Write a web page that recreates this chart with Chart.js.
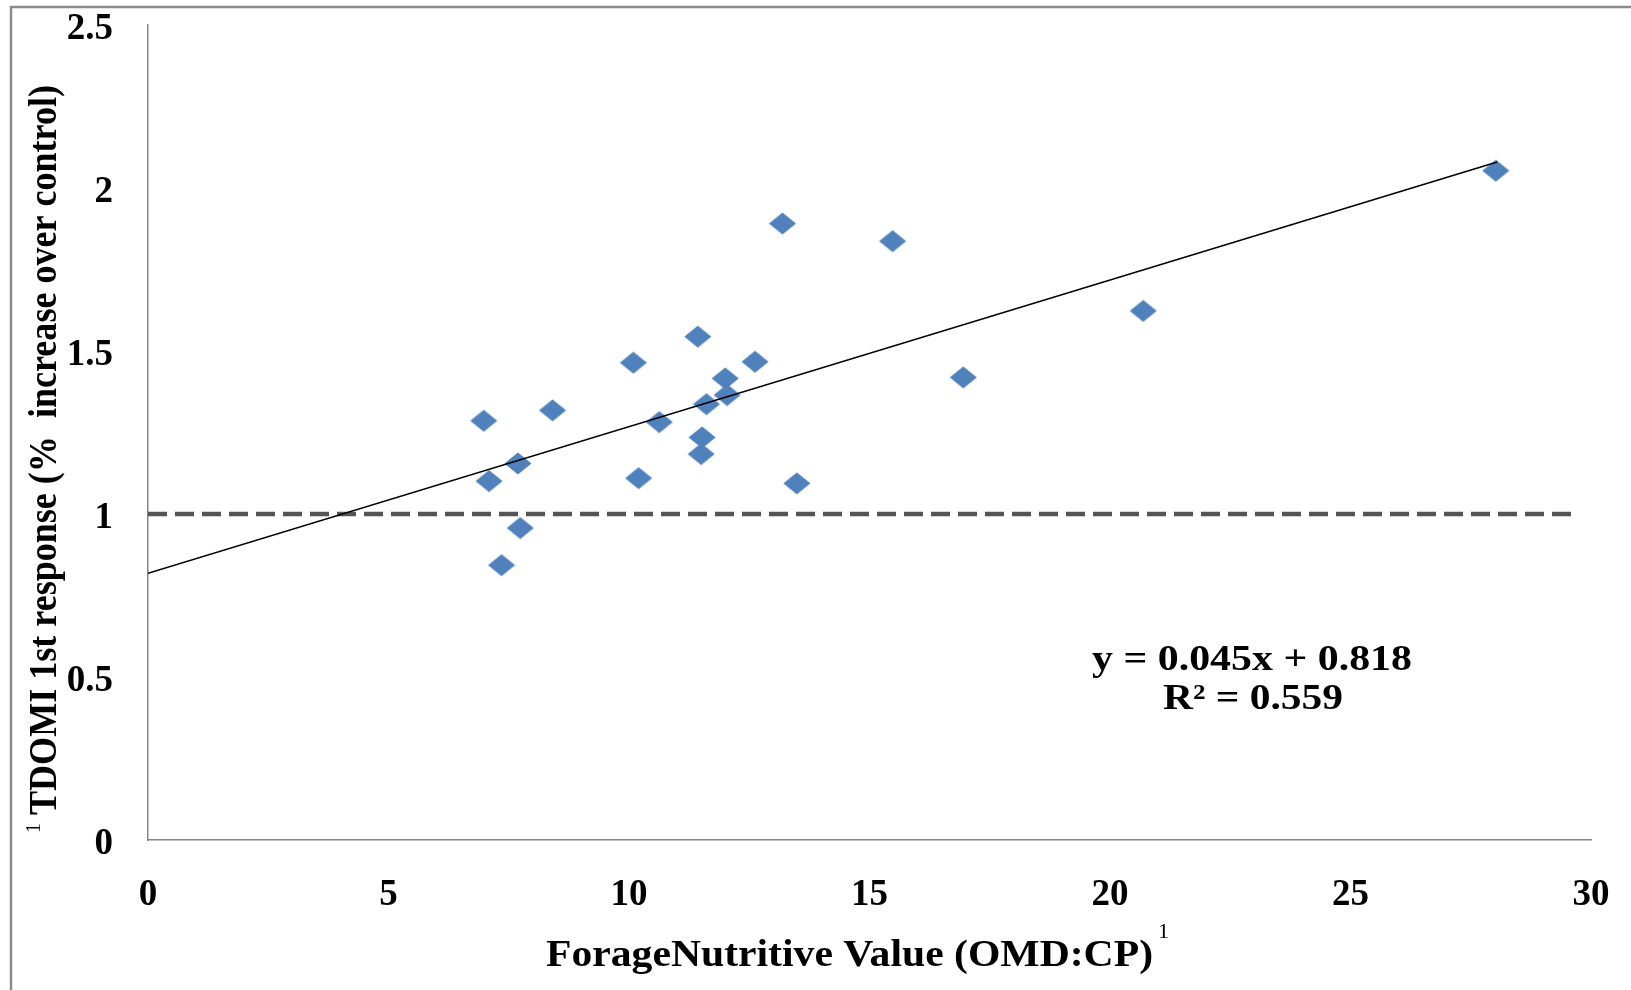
<!DOCTYPE html>
<html>
<head>
<meta charset="utf-8">
<script src="https://cdn.jsdelivr.net/npm/chart.js@4/dist/chart.umd.min.js"></script>
<style>
  html, body { margin: 0; padding: 0; background: #ffffff; }
  #wrap { width: 1631px; height: 990px; position: relative; }
</style>
</head>
<body>
<div id="wrap"><canvas id="c" width="1631" height="990"></canvas></div>
<script>
// ---- data ----
const forageX = [6.98, 7.09, 7.69, 7.35, 7.74, 8.41, 10.09, 10.20, 10.63, 11.43, 11.52,
                 11.50, 11.61, 12.00, 12.04, 12.62, 13.19, 13.49, 15.48, 16.95, 20.69, 28.02];
const responseY = [1.286, 1.101, 1.155, 0.843, 0.957, 1.318, 1.464, 1.110, 1.282, 1.544, 1.235,
                   1.184, 1.337, 1.416, 1.365, 1.467, 1.891, 1.094, 1.837, 1.419, 1.623, 2.053];
const trendX = [0, 28.05];
const trendY = [0.818, 2.080];
const controlX = [0, 29.75];
const controlY = [1, 1];
const xTicks = [0, 5, 10, 15, 20, 25, 30];
const yTicks = [0, 0.5, 1, 1.5, 2, 2.5];
const xTitle = 'ForageNutritive Value (OMD:CP)';
const xTitleSup = '1';
const yTitleSup = '1';
const yTitle = 'TDOMI 1st response (%  increase over control)';
const eqLine1 = 'y = 0.045x + 0.818';
const eqLine2 = 'R\u00B2 = 0.559';

const zip = (xs, ys) => xs.map((x, i) => ({ x: x, y: ys[i] }));

// diamond marker (slightly flattened like the reference)
const marker = document.createElement('canvas');
marker.width = 28; marker.height = 23;
(function () {
  const m = marker.getContext('2d');
  m.fillStyle = '#4F81BD';
  m.beginPath();
  m.moveTo(0.5, 11.5); m.lineTo(14, 0.5); m.lineTo(27.5, 11.5); m.lineTo(14, 22.5);
  m.closePath(); m.fill();
})();

const SERIF = '"Liberation Serif", "Times New Roman", serif';

const decor = {
  id: 'decor',
  beforeDraw(chart) {
    const ctx = chart.ctx;
    ctx.save();
    ctx.fillStyle = '#ffffff';
    ctx.fillRect(0, 0, chart.width, chart.height);
    ctx.strokeStyle = '#8c8c8c';
    ctx.lineWidth = 2.5;
    ctx.strokeRect(11, 7, 1700, 1100);
    ctx.restore();
  },
  afterDraw(chart) {
    const ctx = chart.ctx;
    ctx.save();
    ctx.fillStyle = '#000000';
    ctx.textBaseline = 'alphabetic';
    ctx.textAlign = 'left';
    // x axis title
    ctx.font = 'bold 38px ' + SERIF;
    const w = ctx.measureText(xTitle).width;
    ctx.save();
    ctx.translate(546, 966);
    ctx.scale(607 / w, 1);
    ctx.fillText(xTitle, 0, 0);
    ctx.restore();
    ctx.font = '22px ' + SERIF;
    ctx.fillText(xTitleSup, 1158, 938);

    // y axis title (rotated)
    ctx.save();
    ctx.translate(56, 815);
    ctx.rotate(-Math.PI / 2);
    ctx.font = 'bold 36px ' + SERIF;
    const wy = ctx.measureText(yTitle).width;
    ctx.save();
    ctx.scale(730 / wy, 1.12);
    ctx.fillText(yTitle, 0, 0);
    ctx.restore();
    ctx.font = '20px ' + SERIF;
    ctx.fillText(yTitleSup, -18, -16);
    ctx.restore();

    // equation
    ctx.font = 'bold 35px ' + SERIF;
    const w1 = ctx.measureText(eqLine1).width;
    ctx.save();
    ctx.translate(1092, 670);
    ctx.scale(320 / w1, 1);
    ctx.fillText(eqLine1, 0, 0);
    ctx.restore();
    const w2 = ctx.measureText(eqLine2).width;
    ctx.save();
    ctx.translate(1163, 709);
    ctx.scale(180 / w2, 1);
    ctx.fillText(eqLine2, 0, 0);
    ctx.restore();
    ctx.restore();
  }
};

new Chart(document.getElementById('c'), {
  type: 'scatter',
  data: {
    datasets: [
      {
        label: 'Linear trend',
        data: zip(trendX, trendY),
        showLine: true,
        borderColor: '#000000',
        borderWidth: 1.5,
        pointRadius: 0,
        fill: false
      },
      {
        label: 'Control',
        data: zip(controlX, controlY),
        showLine: true,
        borderColor: '#555555',
        borderWidth: 4.5,
        borderDash: [19, 8],
        pointRadius: 0,
        fill: false
      },
      {
        label: 'TDOMI response',
        data: zip(forageX, responseY),
        pointStyle: marker,
        pointRadius: 13,
        backgroundColor: '#4F81BD',
        borderColor: '#4F81BD',
        showLine: false
      }
    ]
  },
  options: {
    responsive: false,
    animation: false,
    devicePixelRatio: 1,
    layout: { padding: { left: 0, top: 25, right: 40, bottom: 0 } },
    plugins: { legend: { display: false }, tooltip: { enabled: false } },
    scales: {
      x: {
        type: 'linear',
        min: xTicks[0], max: xTicks[xTicks.length - 1],
        afterBuildTicks(s) { s.ticks = xTicks.map(v => ({ value: v })); },
        afterFit(s) { s.height = 150; s.paddingLeft = 0; s.paddingRight = 0; },
        grid: { display: false, drawTicks: false },
        border: { display: true, color: '#868686', width: 1.5 },
        ticks: {
          color: '#000000',
          padding: 33,
          callback: (v) => String(v),
          font: { family: SERIF, size: 37, weight: 'bold' }
        }
      },
      y: {
        type: 'linear',
        min: yTicks[0], max: yTicks[yTicks.length - 1],
        afterBuildTicks(s) { s.ticks = yTicks.map(v => ({ value: v })); },
        afterFit(s) { s.width = 148; s.paddingTop = 0; s.paddingBottom = 0; },
        grid: { display: false, drawTicks: false },
        border: { display: true, color: '#868686', width: 1.5 },
        ticks: {
          color: '#000000',
          padding: 35,
          labelOffset: 4,
          callback: (v) => String(v),
          font: { family: SERIF, size: 37, weight: 'bold' }
        }
      }
    }
  },
  plugins: [decor]
});
</script>
</body>
</html>
